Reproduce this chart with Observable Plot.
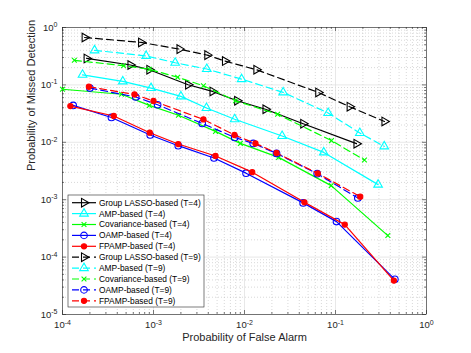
<!DOCTYPE html>
<html><head><meta charset="utf-8">
<script src="https://cdn.jsdelivr.net/npm/d3@7"></script>
<script src="https://cdn.jsdelivr.net/npm/@observablehq/plot@0.6"></script>
<style>
body{margin:0;background:#fff;}
#chart{width:471px;height:353px;}
</style>
</head><body><div id="chart"></div>
<script>
// ---- data ----
const seriesNames = [
  "Group LASSO-based (T=4)", "AMP-based (T=4)", "Covariance-based (T=4)", "OAMP-based (T=4)", "FPAMP-based (T=4)",
  "Group LASSO-based (T=9)", "AMP-based (T=9)", "Covariance-based (T=9)", "OAMP-based (T=9)", "FPAMP-based (T=9)"
];
const pfaGL4 = [1.84e-4, 5.58e-4, 9.0e-4, 2.40e-3, 4.45e-3, 8.3e-3, 0.017, 0.0442, 0.170];
const pmdGL4 = [0.289, 0.222, 0.184, 0.1007, 0.0769, 0.053, 0.0377, 0.0211, 0.00946];
const pfaAMP4 = [1.66e-4, 4.6e-4, 9.4e-4, 2.0e-3, 3.82e-3, 7.8e-3, 0.0259, 0.0743, 0.294];
const pmdAMP4 = [0.150, 0.115, 0.088, 0.063, 0.0395, 0.0252, 0.0129, 0.00667, 0.00183];
const pfaCOV4 = [1.0e-4, 4.45e-4, 9.0e-4, 1.88e-3, 4.8e-3, 9.0e-3, 0.0237, 0.0897, 0.376];
const pmdCOV4 = [0.084, 0.0687, 0.0439, 0.0296, 0.0155, 0.00957, 0.00546, 0.00176, 2.37e-4];
const pfaOAMP4 = [1.31e-4, 3.45e-4, 9.2e-4, 1.87e-3, 4.62e-3, 0.0104, 0.0441, 0.1026, 0.449];
const pmdOAMP4 = [0.0439, 0.0271, 0.0134, 0.00873, 0.00533, 0.0029, 8.8e-4, 4.15e-4, 4.1e-5];
const pfaFP4 = [1.22e-4, 3.66e-4, 9.1e-4, 1.87e-3, 4.8e-3, 0.01216, 0.0456, 0.1264, 0.438];
const pmdFP4 = [0.0428, 0.0287, 0.0147, 0.00933, 0.00578, 0.00302, 9.0e-4, 3.68e-4, 3.9e-5];
const pfaGL9 = [1.75e-4, 7.3e-4, 1.93e-3, 3.9e-3, 6.1e-3, 0.0135, 0.0646, 0.143, 0.345];
const pmdGL9 = [0.67, 0.55, 0.42, 0.33, 0.26, 0.184, 0.074, 0.0417, 0.0231];
const pfaAMP9 = [2.25e-4, 8.3e-4, 1.73e-3, 3.85e-3, 9.3e-3, 0.0266, 0.083, 0.185, 0.343];
const pmdAMP9 = [0.40, 0.32, 0.243, 0.189, 0.126, 0.074, 0.0324, 0.0145, 0.0085];
const pfaCOV9 = [1.35e-4, 4.68e-4, 9.0e-4, 1.84e-3, 3.54e-3, 7.96e-3, 0.0231, 0.0904, 0.208];
const pmdCOV9 = [0.268, 0.216, 0.187, 0.136, 0.0966, 0.053, 0.0308, 0.0107, 0.0049];
const pfaOAMP9 = [2.0e-4, 6.38e-4, 1.11e-3, 3.43e-3, 7.8e-3, 0.01246, 0.0225, 0.0629, 0.176];
const pmdOAMP9 = [0.088, 0.0615, 0.0451, 0.0213, 0.01217, 0.00957, 0.00641, 0.00284, 1.07e-3];
const pfaFP9 = [1.95e-4, 6.18e-4, 1.0e-3, 3.54e-3, 7.76e-3, 0.0132, 0.0225, 0.0638, 0.187];
const pmdFP9 = [0.0929, 0.0682, 0.0524, 0.025, 0.0134, 0.00957, 0.00651, 0.00287, 1.13e-3];
const xTicks = [1e-4, 1e-3, 1e-2, 1e-1, 1];
const yTicks = [1e-5, 1e-4, 1e-3, 1e-2, 1e-1, 1];
const xLabel = "Probability of False Alarm";
const yLabel = "Probability of Missed Detection";

// ---- styles ----
const pfas = [pfaGL4, pfaAMP4, pfaCOV4, pfaOAMP4, pfaFP4, pfaGL9, pfaAMP9, pfaCOV9, pfaOAMP9, pfaFP9];
const pmds = [pmdGL4, pmdAMP4, pmdCOV4, pmdOAMP4, pmdFP4, pmdGL9, pmdAMP9, pmdCOV9, pmdOAMP9, pmdFP9];
const colors = ["#000000", "#00ffff", "#00ff00", "#0000ff", "#ff0000"];
const symbols = [
  {symbol: "triangle", rotate: 90, fill: false, r: 3.2},
  {symbol: "triangle", rotate: 0, fill: false, r: 3.2},
  {symbol: "times", rotate: 0, fill: false, r: 2.3},
  {symbol: "circle", rotate: 0, fill: false, r: 3.3},
  {symbol: "circle", rotate: 0, fill: true, r: 2.6}
];
const series = seriesNames.map((name, i) => ({
  name, color: colors[i % 5], dash: i >= 5 ? "7,4" : null, ...symbols[i % 5],
  data: pfas[i].map((x, j) => ({x, y: pmds[i][j]}))
}));

const W = 471, H = 353, mL = 62, mR = 45, mT = 27, mB = 39;
const pw = W - mL - mR, ph = H - mT - mB;
const minorX = [], minorY = [];
for (let e = -4; e < 0; e++) for (let k = 2; k <= 9; k++) minorX.push(k * 10 ** e);
for (let e = -5; e < 0; e++) for (let k = 2; k <= 9; k++) minorY.push(k * 10 ** e);

const marks = [
  Plot.ruleX(minorX, {stroke: "#bdbdbd", strokeWidth: 0.6, strokeDasharray: "1,2"}),
  Plot.ruleY(minorY, {stroke: "#bdbdbd", strokeWidth: 0.6, strokeDasharray: "1,2"}),
  Plot.ruleX(xTicks, {stroke: "#dedede", strokeWidth: 0.7}),
  Plot.ruleY(yTicks, {stroke: "#dedede", strokeWidth: 0.7}),
  // inward ticks
  Plot.ruleX(xTicks, {stroke: "#262626", strokeWidth: 0.6, insetTop: ph - 4}),
  Plot.ruleX(xTicks, {stroke: "#262626", strokeWidth: 0.6, insetBottom: ph - 4}),
  Plot.ruleX(minorX, {stroke: "#262626", strokeWidth: 0.6, insetTop: ph - 2}),
  Plot.ruleX(minorX, {stroke: "#262626", strokeWidth: 0.6, insetBottom: ph - 2}),
  Plot.ruleY(yTicks, {stroke: "#262626", strokeWidth: 0.6, insetRight: pw - 4}),
  Plot.ruleY(yTicks, {stroke: "#262626", strokeWidth: 0.6, insetLeft: pw - 4}),
  Plot.ruleY(minorY, {stroke: "#262626", strokeWidth: 0.6, insetRight: pw - 2}),
  Plot.ruleY(minorY, {stroke: "#262626", strokeWidth: 0.6, insetLeft: pw - 2}),
  Plot.frame({stroke: "#262626", strokeWidth: 0.6}),
  Plot.axisX({ticks: xTicks, tickSize: 0, tickPadding: 7, label: null, tickFormat: d => String(Math.round(Math.log10(d))), fontSize: 9.5}),
  Plot.axisY({ticks: yTicks, tickSize: 0, tickPadding: 5, label: null, tickFormat: d => String(Math.round(Math.log10(d))), fontSize: 9.5}),
  Plot.text([xLabel], {frameAnchor: "bottom", dy: 26.5, text: d => d, fontSize: 11, fill: "#262626"}),
  Plot.text([yLabel], {frameAnchor: "left", dx: -31, rotate: -90, text: d => d, fontSize: 11, fill: "#262626"})
];
for (const s of series) {
  marks.push(Plot.line(s.data, {x: "x", y: "y", stroke: s.color, strokeWidth: 1.2, strokeDasharray: s.dash}));
  marks.push(Plot.dot(s.data, {x: "x", y: "y", symbol: s.symbol, r: s.r, rotate: s.rotate,
    stroke: s.color, strokeWidth: 1.1, fill: s.fill ? s.color : "none"}));
}

const svg = Plot.plot({
  width: W, height: H, marginLeft: mL, marginRight: mR, marginTop: mT, marginBottom: mB,
  style: {fontFamily: "'Liberation Sans', Arial, sans-serif", fontSize: "9.5px", color: "#262626", background: "#fff"},
  x: {type: "log", domain: [1e-4, 1]},
  y: {type: "log", domain: [1e-5, 1]},
  marks
});

// superscript tick labels (10^e)
d3.select(svg).selectAll('g[aria-label="x-axis tick label"] text, g[aria-label="y-axis tick label"] text').each(function() {
  const t = d3.select(this);
  const e = t.text();
  t.text("10");
  t.append("tspan").attr("dy", "-0.5em").attr("font-size", "7px").text(e);
});

// legend
const lg = d3.select(svg).append("g").attr("aria-label", "legend")
  .attr("font-family", "'Liberation Sans', Arial, sans-serif").attr("font-size", "8.4px")
  .attr("text-anchor", "start");
const lx = 68, ly = 195, lw = 136, lh = 112, row = 10.9;
lg.append("rect").attr("x", lx).attr("y", ly).attr("width", lw).attr("height", lh)
  .attr("fill", "#fff").attr("stroke", "#262626").attr("stroke-width", 0.6);
const symMap = {triangle: d3.symbolTriangle, times: d3.symbolTimes, circle: d3.symbolCircle};
series.forEach((s, i) => {
  const y = ly + 7.7 + i * row;
  lg.append("line").attr("x1", lx + 4).attr("x2", lx + 28).attr("y1", y).attr("y2", y)
    .attr("stroke", s.color).attr("stroke-width", 1.2).attr("stroke-dasharray", s.dash);
  lg.append("path").attr("d", d3.symbol(symMap[s.symbol], Math.PI * s.r * s.r)())
    .attr("transform", `translate(${lx + 16},${y}) rotate(${s.rotate})`)
    .attr("stroke", s.color).attr("stroke-width", 1.1).attr("fill", s.fill ? s.color : "none");
  lg.append("text").attr("x", lx + 31).attr("y", y).attr("dy", "0.35em").attr("text-anchor", "start")
    .attr("fill", "#000").text(s.name);
});

document.getElementById("chart").append(svg);
</script>
</body></html>
